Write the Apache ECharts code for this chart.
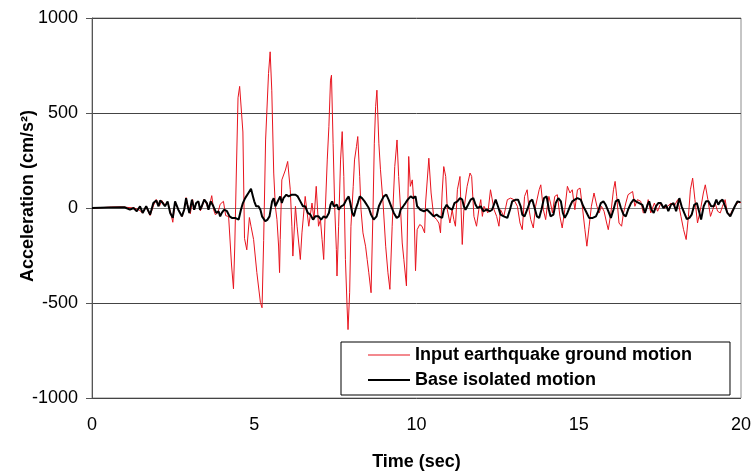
<!DOCTYPE html>
<html>
<head>
<meta charset="utf-8">
<script src="https://cdn.jsdelivr.net/npm/echarts@6/dist/echarts.min.js"></script>
<style>
html,body{margin:0;padding:0;background:#fff;}
#chart{width:756px;height:472px;}
</style>
</head>
<body>
<div id="chart"></div>
<script>
// Input earthquake ground motion (time in sec, acceleration in cm/s^2)
const inputTime = [0,0.3,0.6,0.9,1.1,1.3,1.45,1.56,1.66,1.79,1.9,1.98,2.08,2.15,2.25,2.33,2.42,2.49,2.56,2.62,2.7,2.77,2.85,2.9,2.97,3.03,3.1,3.15,3.21,3.28,3.34,3.4,3.45,3.53,3.59,3.69,3.75,3.8,3.88,3.95,4.05,4.12,4.21,4.3,4.36,4.4,4.45,4.5,4.55,4.6,4.65,4.7,4.77,4.85,4.9,4.98,5.08,5.19,5.24,5.29,5.35,5.44,5.49,5.54,5.6,5.65,5.7,5.75,5.78,5.8,5.85,5.96,6.03,6.11,6.16,6.19,6.27,6.32,6.42,6.47,6.57,6.68,6.78,6.84,6.91,6.98,7.04,7.09,7.14,7.19,7.25,7.3,7.35,7.38,7.43,7.48,7.53,7.55,7.6,7.66,7.71,7.76,7.81,7.86,7.89,7.94,7.98,8.05,8.09,8.15,8.19,8.25,8.29,8.35,8.43,8.48,8.53,8.6,8.66,8.7,8.74,8.78,8.84,8.89,8.97,9.05,9.12,9.18,9.25,9.33,9.4,9.45,9.51,9.56,9.61,9.69,9.73,9.76,9.81,9.87,9.92,9.97,10.02,10.1,10.17,10.25,10.28,10.38,10.45,10.53,10.62,10.69,10.74,10.79,10.84,10.9,10.95,11.03,11.1,11.15,11.2,11.26,11.34,11.41,11.46,11.56,11.65,11.7,11.77,11.85,11.92,11.98,12.03,12.08,12.2,12.28,12.33,12.39,12.47,12.54,12.59,12.69,12.8,12.9,13.0,13.11,13.19,13.26,13.33,13.41,13.47,13.52,13.6,13.67,13.78,13.83,13.91,13.98,14.03,14.08,14.13,14.19,14.26,14.34,14.42,14.49,14.57,14.65,14.73,14.8,14.88,14.96,15.04,15.11,15.19,15.25,15.32,15.39,15.47,15.56,15.63,15.7,15.78,15.86,15.91,15.99,16.07,16.12,16.17,16.24,16.32,16.38,16.45,16.52,16.66,16.73,16.81,16.91,16.99,17.07,17.14,17.22,17.33,17.43,17.53,17.63,17.74,17.84,17.94,18.05,18.15,18.23,18.31,18.38,18.44,18.51,18.58,18.66,18.72,18.77,18.84,18.9,18.98,19.06,19.13,19.2,19.28,19.36,19.43,19.51,19.58,19.67,19.74,19.85,19.95,20.0];
const inputAccel = [0,2,5,6,3,0,-10,-26,8,-40,15,45,10,40,15,30,-20,-75,30,20,-20,-45,-5,55,0,-30,45,-10,25,35,-15,10,45,20,-10,65,-10,-35,-25,20,35,-40,-45,-300,-425,-200,200,580,640,630,400,-160,-220,-50,-96,-166,-340,-498,-525,-170,358,708,822,620,184,9,-61,-200,-340,-166,148,200,245,96,-96,-253,9,-96,-271,-131,61,-96,26,-61,114,-96,-61,-166,-271,-9,253,428,673,699,341,0,-218,-358,-96,253,402,166,-271,-516,-640,-446,-96,114,253,323,376,166,-9,-131,-201,-271,-341,-446,-9,341,533,620,341,201,26,-201,-341,-428,-96,218,358,166,-9,-184,-271,-410,-9,271,114,148,26,-330,-114,-87,-96,-131,26,262,79,-44,-61,-79,-131,79,218,166,-9,-79,-9,-61,-96,96,166,-192,-9,114,184,166,-44,-96,-9,44,-44,9,-26,96,105,-9,-44,-96,-9,-44,44,52,44,9,-79,-114,61,96,-9,-61,-105,9,96,122,-9,-61,9,61,26,-26,61,70,-44,-105,-9,114,79,96,-9,96,105,9,-114,-201,-96,9,79,9,-26,9,-17,-79,-114,-26,96,140,61,-79,-96,-26,26,70,87,9,44,35,-26,-17,44,-26,26,-17,26,0,9,26,9,44,-44,-114,-166,-44,96,157,44,-79,-87,9,79,122,44,-44,-9,26,-17,-26,9,44,-26,-35,-9,17,35,26];

// Base isolated motion
const baseTime = [0,0.5,1.0,1.17,1.28,1.38,1.48,1.56,1.67,1.79,1.89,1.98,2.05,2.1,2.18,2.25,2.33,2.41,2.49,2.56,2.61,2.66,2.77,2.84,2.9,2.94,3.0,3.08,3.15,3.21,3.28,3.33,3.38,3.46,3.54,3.59,3.66,3.74,3.83,3.9,3.95,4.0,4.07,4.16,4.24,4.31,4.41,4.52,4.59,4.65,4.72,4.83,4.9,4.96,5.0,5.06,5.13,5.19,5.24,5.34,5.41,5.47,5.55,5.6,5.65,5.7,5.8,5.85,5.9,5.99,6.06,6.16,6.27,6.34,6.42,6.5,6.57,6.65,6.73,6.81,6.88,6.98,7.06,7.14,7.22,7.3,7.35,7.4,7.45,7.5,7.55,7.6,7.68,7.76,7.84,7.91,7.96,8.02,8.07,8.12,8.19,8.25,8.32,8.4,8.46,8.53,8.6,8.68,8.77,8.84,8.91,8.99,9.07,9.14,9.22,9.3,9.39,9.46,9.51,9.59,9.66,9.73,9.82,9.9,9.97,10.02,10.07,10.12,10.23,10.33,10.43,10.53,10.62,10.69,10.79,10.84,10.93,11.0,11.1,11.17,11.26,11.34,11.41,11.46,11.51,11.59,11.67,11.75,11.82,11.88,11.98,12.06,12.16,12.26,12.33,12.44,12.51,12.59,12.69,12.8,12.88,12.95,13.06,13.13,13.21,13.26,13.33,13.41,13.5,13.57,13.64,13.71,13.78,13.85,13.93,14.01,14.08,14.13,14.22,14.29,14.37,14.45,14.51,14.57,14.65,14.73,14.8,14.88,14.96,15.06,15.14,15.22,15.32,15.43,15.53,15.6,15.68,15.76,15.83,15.91,15.99,16.07,16.14,16.22,16.3,16.38,16.45,16.52,16.61,16.69,16.76,16.86,16.96,17.04,17.12,17.17,17.24,17.31,17.38,17.45,17.53,17.61,17.69,17.76,17.84,17.92,18.0,18.05,18.1,18.17,18.25,18.33,18.41,18.48,18.56,18.64,18.72,18.77,18.85,18.92,19.0,19.08,19.16,19.24,19.3,19.36,19.43,19.51,19.58,19.67,19.74,19.81,19.89,19.98,20.0];
const baseAccel = [0,3,4,-9,0,-17,9,-26,9,-35,26,40,9,40,26,9,35,-26,-52,35,26,-9,-44,-9,52,17,-26,44,-9,26,35,-9,9,44,26,-9,35,9,-26,-17,-44,-26,-9,-17,-44,-52,-52,-61,-9,26,52,82,101,61,35,9,9,-9,-44,-70,-61,-44,35,52,9,0,61,26,52,70,61,70,70,61,35,9,9,-26,-35,-61,-44,-44,-61,-44,-52,-26,17,35,9,0,17,-9,9,17,44,61,26,-26,-44,-9,26,61,52,35,26,0,-35,-61,-44,9,35,61,70,44,9,-26,-52,-44,-9,9,26,44,61,52,61,9,0,-9,-17,-9,-26,-44,-35,-44,-52,-9,17,0,-9,26,35,52,44,9,-9,17,44,52,17,0,9,-17,-9,-17,-9,44,9,-35,-44,-52,-9,35,44,44,9,-35,-44,-9,35,44,0,-44,-52,-9,52,61,-9,-44,-35,26,52,35,-26,-52,-26,9,35,44,52,44,9,-17,-52,-52,-44,-17,26,35,17,-17,-52,-9,35,44,0,-35,-44,-9,26,44,35,26,17,-26,17,35,-9,-26,9,26,26,0,17,-17,17,26,-17,17,52,9,-26,-58,-52,-35,17,26,-26,-61,9,35,35,9,9,44,17,35,44,9,-26,-44,-17,9,35,30,30];

const seriesNames = ['Input earthquake ground motion', 'Base isolated motion'];
const xTicks = { min: 0, max: 20, interval: 5 };
const yTicks = { min: -1000, max: 1000, interval: 500 };

const FONT = 'Liberation Sans, Arial, sans-serif';
const pair = (ts, vs) => ts.map((t, i) => [t, vs[i]]);

const chart = echarts.init(document.getElementById('chart'), null, { renderer: 'canvas' });
chart.setOption({
  animation: false,
  backgroundColor: '#ffffff',
  grid: {
    left: 92, right: 15, top: 18, bottom: 74,
    outerBoundsMode: 'none', containLabel: false,
    show: true, borderColor: '#8c8c8c', borderWidth: 1, backgroundColor: 'transparent'
  },
  xAxis: {
    type: 'value', min: xTicks.min, max: xTicks.max, interval: xTicks.interval,
    name: 'Time (sec)', nameLocation: 'middle', nameGap: 55,
    nameTextStyle: { fontFamily: FONT, fontSize: 18, fontWeight: 'bold', color: '#000' },
    axisLine: { show: true, lineStyle: { color: '#808080', width: 1 } },
    axisTick: { show: false },
    axisLabel: { margin: 18, fontFamily: FONT, fontSize: 18, color: '#000', formatter: v => String(v) },
    splitLine: { show: false }
  },
  yAxis: {
    type: 'value', min: yTicks.min, max: yTicks.max, interval: yTicks.interval,
    axisLine: { show: true, lineStyle: { color: '#555', width: 1 } },
    axisTick: { show: true, inside: false, length: 6, lineStyle: { color: '#555' } },
    axisLabel: { margin: 14, fontFamily: FONT, fontSize: 18, color: '#000', formatter: v => String(v) },
    splitLine: { show: true, lineStyle: { color: '#444', width: 1 } }
  },
  graphic: [{
    type: 'text', x: 28, y: 196, rotation: Math.PI / 2,
    style: {
      text: 'Acceleration (cm/s²)', fontFamily: FONT, fontSize: 18, fontWeight: 'bold',
      fill: '#000', textAlign: 'center', textVerticalAlign: 'middle'
    }
  }],
  legend: {
    orient: 'vertical', left: 341, top: 342,
    padding: [4, 38, 6, 27], itemWidth: 42, itemHeight: 12, itemGap: 7,
    borderColor: '#000', borderWidth: 1, backgroundColor: '#fff',
    textStyle: { fontFamily: FONT, fontSize: 18, fontWeight: 'bold', color: '#000', lineHeight: 18 },
    data: [
      { name: seriesNames[0], icon: 'path://M0,0H42V1H0Z' },
      { name: seriesNames[1], icon: 'path://M0,0H42V2H0Z' }
    ]
  },
  series: [
    {
      name: seriesNames[0], type: 'line', symbol: 'none', showSymbol: false,
      data: pair(inputTime, inputAccel),
      lineStyle: { color: '#e8141e', width: 1 }, itemStyle: { color: '#e8141e' }, z: 2
    },
    {
      name: seriesNames[1], type: 'line', symbol: 'none', showSymbol: false,
      data: pair(baseTime, baseAccel),
      lineStyle: { color: '#000', width: 2 }, itemStyle: { color: '#000' }, z: 3
    }
  ]
});
</script>
</body>
</html>
